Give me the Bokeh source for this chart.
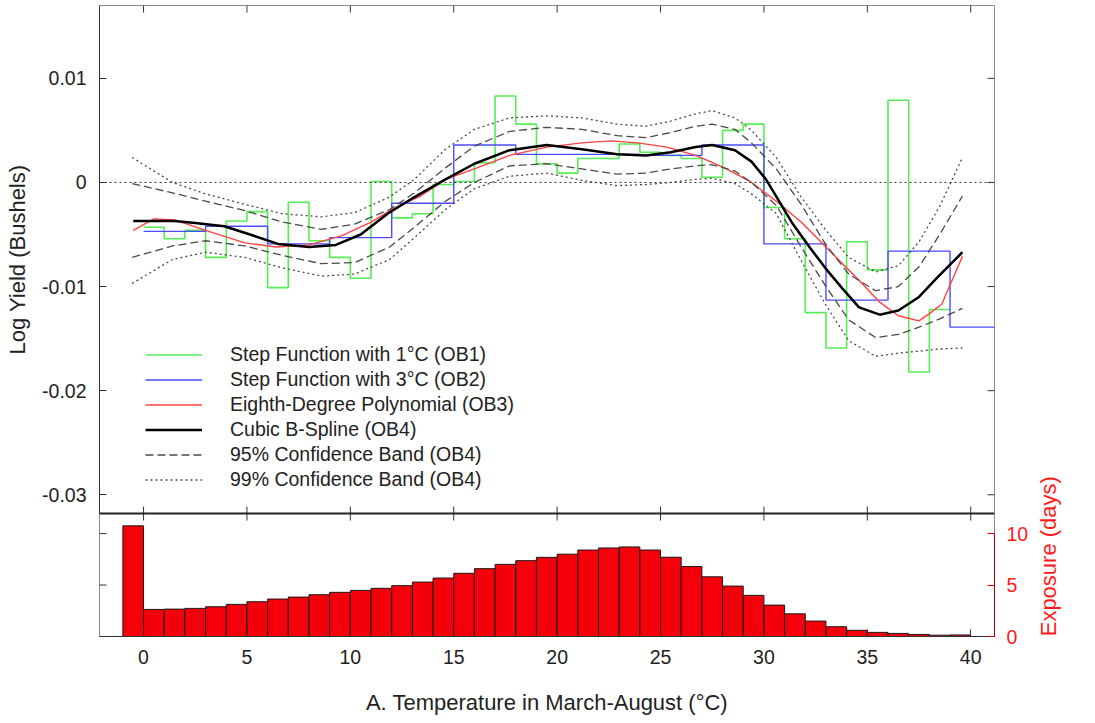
import math
from bokeh.plotting import figure
from bokeh.models import (Range1d, LinearAxis, FixedTicker, Legend, LegendItem,
                          Span)
from bokeh.embed import file_html
from bokeh.resources import INLINE

FONT = "Liberation Sans"

# ---------------- data ----------------
x_ticks = [0, 5, 10, 15, 20, 25, 30, 35, 40]
x_tick_labels = ["0", "5", "10", "15", "20", "25", "30", "35", "40"]
y_ticks = [-0.03, -0.02, -0.01, 0.0, 0.01]
y_tick_labels = ["-0.03", "-0.02", "-0.01", "0", "0.01"]
exp_ticks = [0, 5, 10]
exp_tick_labels = ["0", "5", "10"]

# OB1: 1 degree step function (bins 0-1 ... 38-39)
ob1_edges = list(range(0, 40))
ob1_values = [-0.0043, -0.0054, -0.0046, -0.0072, -0.0037, -0.0028, -0.0101,
              -0.0019, -0.0056, -0.0072, -0.0092, 0.0001, -0.0034, -0.0030,
              -0.0002, 0.0001, 0.0019, 0.0083, 0.0056, 0.0018, 0.0009, 0.0023,
              0.0023, 0.0037, 0.0029, 0.0026, 0.0023, 0.0005, 0.0050, 0.0056,
              -0.0024, -0.0054, -0.0125, -0.0159, -0.0057, -0.0084, 0.0079,
              -0.0182, -0.0122]

# OB2: 3 degree step function
ob2_edges = [0, 3, 6, 9, 12, 15, 18, 21, 24, 27, 30, 33, 36, 39, 42]
ob2_values = [-0.0047, -0.0042, -0.0059, -0.0053, -0.0020, 0.0036, 0.0027,
              0.0027, 0.0026, 0.0036, -0.0059, -0.0113, -0.0066, -0.0139]

# OB3: eighth-degree polynomial
ob3_t = [-0.5, 0.5, 1.5, 3.0, 4.9, 6.4, 8.0, 9.6, 11.0, 12.2, 13.4, 14.6, 16.0,
         17.7, 19.5, 21.2, 22.6, 23.9, 25.3, 26.7, 28.1, 29.4, 30.6, 31.8, 33.0,
         34.6, 35.6, 36.5, 37.5, 38.0, 38.6, 39.1, 39.6]
ob3_values = [-0.0046, -0.0035, -0.0036, -0.0046, -0.0058, -0.0062, -0.0060,
              -0.0051, -0.0038, -0.0024, -0.0013, 0.0003, 0.0013, 0.0026, 0.0034,
              0.0038, 0.0040, 0.0038, 0.0034, 0.0026, 0.0014, 0.0000, -0.0018,
              -0.0038, -0.0062, -0.0094, -0.0115, -0.0128, -0.0133, -0.0126,
              -0.0117, -0.0094, -0.0071]

# OB4: cubic B-spline
ob4_t = [-0.5, 0.5, 1.5, 2.5, 3.9, 5.3, 6.5, 8.0, 9.3, 10.5, 11.8, 13.1, 14.6,
         16.0, 17.7, 19.5, 21.2, 22.9, 24.3, 25.5, 26.7, 27.5, 28.6, 29.4, 30.1,
         31.4, 32.2, 33.0, 33.8, 34.6, 35.6, 36.5, 37.5, 38.4, 39.6]
ob4_values = [-0.0037, -0.0037, -0.0037, -0.0039, -0.0042, -0.0051, -0.0059,
              -0.0062, -0.0060, -0.0050, -0.0030, -0.0014, 0.0003, 0.0018,
              0.0031, 0.0036, 0.0032, 0.0027, 0.0026, 0.0029, 0.0034, 0.0036,
              0.0031, 0.0020, 0.0003, -0.0040, -0.0062, -0.0083, -0.0102,
              -0.0120, -0.0127, -0.0123, -0.0110, -0.0091, -0.0067]

# confidence bands (OB4)
band_t = [-0.55, 1.4, 3.0, 4.9, 6.7, 8.6, 10.2, 11.9, 13.1, 14.6, 16.0, 17.7,
          19.5, 21.2, 22.9, 24.3, 25.5, 26.7, 27.5, 28.6, 29.4, 30.6, 31.8, 33.0,
          34.1, 35.4, 36.5, 37.5, 38.5, 39.6]
ci99_upper = [0.0024, 0.0000, -0.0011, -0.0021, -0.0030, -0.0033, -0.0029,
              -0.0014, 0.0003, 0.0032, 0.0051, 0.0062, 0.0064, 0.0062, 0.0056,
              0.0054, 0.0059, 0.0066, 0.0069, 0.0062, 0.0050, 0.0024, -0.0014,
              -0.0046, -0.0072, -0.0086, -0.0080, -0.0057, -0.0023, 0.0024]
ci95_upper = [-0.0001, -0.0010, -0.0018, -0.0027, -0.0038, -0.0045, -0.0040,
              -0.0026, -0.0010, 0.0014, 0.0035, 0.0049, 0.0053, 0.0051, 0.0045,
              0.0043, 0.0048, 0.0054, 0.0056, 0.0051, 0.0038, 0.0013, -0.0021,
              -0.0060, -0.0088, -0.0104, -0.0100, -0.0081, -0.0050, -0.0013]
ci95_lower = [-0.0072, -0.0061, -0.0056, -0.0061, -0.0070, -0.0078, -0.0077,
              -0.0062, -0.0043, -0.0018, 0.0000, 0.0016, 0.0018, 0.0013, 0.0008,
              0.0009, 0.0013, 0.0016, 0.0017, 0.0011, 0.0000, -0.0022, -0.0062,
              -0.0100, -0.0132, -0.0149, -0.0146, -0.0139, -0.0131, -0.0121]
ci99_lower = [-0.0097, -0.0074, -0.0067, -0.0072, -0.0082, -0.0090, -0.0088,
              -0.0074, -0.0053, -0.0026, -0.0006, 0.0006, 0.0009, 0.0002, -0.0003,
              -0.0002, 0.0000, 0.0003, 0.0004, -0.0001, -0.0011, -0.0030, -0.0075,
              -0.0118, -0.0152, -0.0167, -0.0164, -0.0162, -0.0160, -0.0159]

# exposure histogram (days), bins -1..40
exp_edges = list(range(-1, 41))
exp_days = [10.75, 2.63, 2.66, 2.73, 2.89, 3.12, 3.38, 3.64, 3.83, 4.06, 4.29,
            4.48, 4.68, 4.94, 5.29, 5.68, 6.14, 6.59, 7.01, 7.37, 7.69, 8.0, 8.4,
            8.6, 8.7, 8.4, 7.7, 6.8, 5.8, 4.9, 4.0, 3.05, 2.2, 1.5, 0.95, 0.6,
            0.4, 0.3, 0.2, 0.13, 0.15]

# ---------------- layout constants ----------------
LEFT = 99
FRAME_W = 895
RIGHT = 1095 - LEFT - FRAME_W
TOP_H = 508          # height of the yield panel (px)
BOT_H = 123          # height of the exposure panel (px)
TXT = "#222222"
RED_TXT = "#ff1a1a"
TICK_FS = "19.5px"
LABEL_FS = "22px"
X_RANGE = (-2.13, 41.15)
TOP_YMIN, TOP_YMAX = -0.0318, 0.0170
EXP_MAX = 11.95
Y_BOTTOM = TOP_YMIN - (TOP_YMAX - TOP_YMIN) * BOT_H / TOP_H
EXP_TOP = EXP_MAX * (TOP_H + BOT_H) / BOT_H
# the exposure title starts at the foot of its panel and reads upwards
EXP_TITLE_START = 0.02

p = figure(frame_width=FRAME_W, frame_height=TOP_H + BOT_H,
           x_range=Range1d(*X_RANGE), y_range=Range1d(Y_BOTTOM, TOP_YMAX),
           x_axis_location=None, y_axis_location=None,
           toolbar_location=None, output_backend="svg",
           min_border_left=LEFT, min_border_right=RIGHT,
           min_border_top=5, min_border_bottom=87,
           outline_line_color="#8a8a8a", background_fill_color="white",
           border_fill_color="white")
p.extra_y_ranges = {"exp": Range1d(0, EXP_TOP)}
p.grid.visible = False


def style_axis(ax, labels, ticks, label_color=TXT, line_color="#333333",
               tick_color="#333333", standoff=12, font_size=TICK_FS, tick_in=7):
    ax.ticker = FixedTicker(ticks=ticks)
    ax.major_tick_in = tick_in
    ax.major_tick_out = 0
    ax.minor_tick_line_color = None
    ax.axis_line_color = line_color
    ax.major_tick_line_color = tick_color
    ax.major_label_overrides = dict(zip(ticks, labels))
    ax.major_label_text_font = FONT
    ax.major_label_text_font_size = font_size
    ax.major_label_text_color = label_color
    ax.major_label_standoff = standoff
    ax.axis_label_text_font = FONT
    ax.axis_label_text_font_size = LABEL_FS
    ax.axis_label_text_font_style = "normal"
    ax.axis_label_text_color = label_color


# left axis (yield panel)
ax_left = LinearAxis(bounds=(TOP_YMIN, TOP_YMAX))
style_axis(ax_left, y_tick_labels, y_ticks, standoff=13)
p.add_layout(ax_left, "left")

# title of the yield panel, centred on that panel only
yield_mid = (TOP_YMIN + TOP_YMAX) / 2
ax_left_title = LinearAxis()
style_axis(ax_left_title, ["Log Yield (Bushels)"], [yield_mid], line_color=None,
           tick_color=None, standoff=10, font_size=LABEL_FS, tick_in=0)
ax_left_title.major_label_orientation = "parallel"
p.add_layout(ax_left_title, "left")

# bottom axis
ax_bottom = LinearAxis(axis_label="A. Temperature in March-August (°C)")
style_axis(ax_bottom, x_tick_labels, x_ticks, standoff=13)
ax_bottom.axis_label_standoff = 23
p.add_layout(ax_bottom, "below")

# right axis (exposure panel, red)
ax_right = LinearAxis(y_range_name="exp", bounds=(0, 10))
style_axis(ax_right, exp_tick_labels, exp_ticks, label_color=RED_TXT,
           line_color="#a00000", tick_color="#dd0000", standoff=12)
p.add_layout(ax_right, "right")

# title of the exposure panel, reading upwards
ax_right_title = LinearAxis(y_range_name="exp")
style_axis(ax_right_title, ["Exposure (days)"], [EXP_TITLE_START],
           label_color=RED_TXT, line_color=None, tick_color=None, standoff=17,
           font_size=LABEL_FS, tick_in=0)
ax_right_title.major_label_orientation = math.pi / 2
p.add_layout(ax_right_title, "right")

# panel separator and zero line
p.add_layout(Span(location=TOP_YMIN, dimension="width", line_color="#222222",
                  line_width=2))
p.add_layout(Span(location=0, dimension="width", line_color="#333333",
                  line_width=1, line_dash="2 3"))

# inward tick marks on the remaining frame edges (clipped to the frame)
TICK_KW = dict(marker="dash", size=14, line_color="#333333", line_width=1)
p.scatter(x=x_ticks, y=[TOP_YMAX] * len(x_ticks), angle=math.pi / 2, **TICK_KW)
p.scatter(x=x_ticks, y=[TOP_YMIN] * len(x_ticks), angle=math.pi / 2, **TICK_KW)
p.scatter(x=[X_RANGE[1]] * len(y_ticks), y=y_ticks, angle=0, **TICK_KW)
p.scatter(x=[X_RANGE[0]] * len(exp_ticks), y=exp_ticks, angle=0,
          y_range_name="exp", **TICK_KW)

# exposure bars
p.quad(left=exp_edges[:-1], right=exp_edges[1:], bottom=0, top=exp_days,
       fill_color="#f5000a", line_color="#1a1a1a", line_width=1,
       y_range_name="exp")

# yield curves
r_ob1 = p.step(x=ob1_edges, y=ob1_values + [ob1_values[-1]], mode="after",
               line_color="#55ee55", line_width=1.6)
r_ob2 = p.step(x=ob2_edges, y=ob2_values + [ob2_values[-1]], mode="after",
               line_color="#4b4bff", line_width=1.4)
r_ob3 = p.line(ob3_t, ob3_values, line_color="#ff4040", line_width=1.4)
r_ob4 = p.line(ob4_t, ob4_values, line_color="#000000", line_width=2.5)
r_95u = p.line(band_t, ci95_upper, line_color="#4a4a4a", line_width=1.3,
               line_dash="8 4")
r_95l = p.line(band_t, ci95_lower, line_color="#4a4a4a", line_width=1.3,
               line_dash="8 4")
r_99u = p.line(band_t, ci99_upper, line_color="#4a4a4a", line_width=1.3,
               line_dash="2 3")
r_99l = p.line(band_t, ci99_lower, line_color="#4a4a4a", line_width=1.3,
               line_dash="2 3")

legend = Legend(items=[
    LegendItem(label="Step Function with 1°C (OB1)", renderers=[r_ob1]),
    LegendItem(label="Step Function with 3°C (OB2)", renderers=[r_ob2]),
    LegendItem(label="Eighth-Degree Polynomial (OB3)", renderers=[r_ob3]),
    LegendItem(label="Cubic B-Spline (OB4)", renderers=[r_ob4]),
    LegendItem(label="95% Confidence Band (OB4)", renderers=[r_95u]),
    LegendItem(label="99% Confidence Band (OB4)", renderers=[r_99u]),
], location=(46, 21 + BOT_H), glyph_width=57, glyph_height=25, label_height=25,
    spacing=0, padding=0, margin=0, label_standoff=28,
    label_text_font=FONT, label_text_font_size=TICK_FS, label_text_color=TXT,
    border_line_color=None, background_fill_alpha=0)
p.add_layout(legend)

open("out.html", "w").write(file_html(p, INLINE))
